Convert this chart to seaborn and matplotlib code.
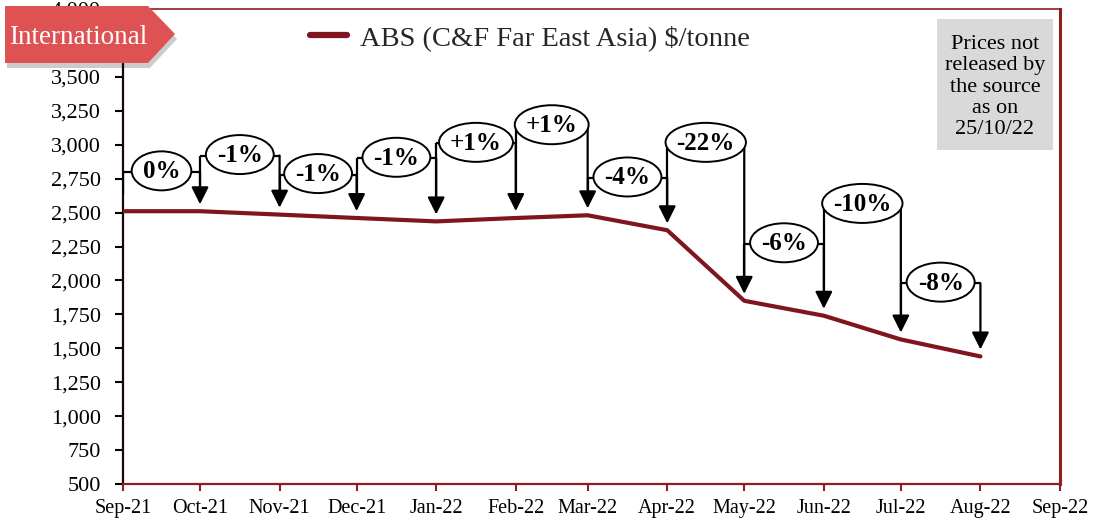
import matplotlib
matplotlib.use("Agg")
import matplotlib.pyplot as plt
import matplotlib.dates as mdates
from matplotlib.patches import Polygon, Rectangle, Ellipse
from matplotlib.transforms import ScaledTranslation
import pandas as pd
import seaborn as sns

# Monthly ABS prices, C&F Far East Asia, US$ per tonne
months = ["2021-09-01", "2021-10-01", "2021-11-01", "2021-12-01", "2022-01-01",
          "2022-02-01", "2022-03-01", "2022-04-01", "2022-05-01", "2022-06-01",
          "2022-07-01", "2022-08-01"]
prices = [2510, 2510, 2485, 2460, 2435, 2460, 2480, 2370, 1850, 1740, 1565, 1440]

# Month-on-month change labels and the height of each bracket
change_labels = ["0%", "-1%", "-1%", "-1%", "+1%", "+1%", "-4%", "-22%", "-6%", "-10%", "-8%"]
bracket_levels = [2800, 2920, 2780, 2900, 3010, 3140, 2755, 3010, 2270, 2560, 1980]

series_name = "ABS (C&F Far East Asia) $/tonne"
y_ticks = [500, 750, 1000, 1250, 1500, 1750, 2000, 2250, 2500, 2750, 3000, 3250, 3500, 4000]
note_text = "Prices not\nreleased by\nthe source\nas on\n25/10/22"
banner_text = "International"

LINE_COLOR = "#80151F"
FRAME_RED = "#8F1D21"
BANNER_RED = "#DE5253"

sns.set_style("white")
plt.rcParams["font.family"] = ["Liberation Serif", "DejaVu Serif"]

W, H = 1093, 521
DPI = 100
fig = plt.figure(figsize=(W / DPI, H / DPI), dpi=DPI)
ax = fig.add_axes([123 / W, 1 - 484 / H, (1060 - 123) / W, (484 - 9) / H])

df = pd.DataFrame({"month": pd.to_datetime(months), "price": prices})
sns.lineplot(data=df, x="month", y="price", ax=ax, color=LINE_COLOR,
             linewidth=3.0, label=series_name, solid_capstyle="round", zorder=3)

ax.set_xlim(pd.Timestamp("2021-09-01"), pd.Timestamp("2022-09-01"))
ax.set_ylim(500, 4000)
ax.set_xlabel("")
ax.set_ylabel("")
ax.xaxis.set_major_locator(mdates.MonthLocator())
ax.xaxis.set_major_formatter(mdates.DateFormatter("%b-%y"))
ax.set_yticks(y_ticks)
ax.yaxis.set_major_formatter(matplotlib.ticker.FuncFormatter(lambda v, p: f"{int(v):,}"))

ax.tick_params(axis="y", which="major", direction="out", length=6, width=1.5,
               color="black", labelsize=16, pad=10, left=True)
ax.tick_params(axis="x", which="major", direction="out", length=5, width=1.5,
               color=FRAME_RED, labelsize=14.5, pad=6, bottom=True)
for lbl in ax.get_yticklabels() + ax.get_xticklabels():
    lbl.set_color("black")

ax.spines["left"].set_color("#1a0505")
ax.spines["left"].set_linewidth(1.6)
ax.spines["bottom"].set_color(FRAME_RED)
ax.spines["bottom"].set_linewidth(1.6)
ax.spines["right"].set_color(FRAME_RED)
ax.spines["right"].set_linewidth(2.2)
ax.spines["top"].set_color(FRAME_RED)
ax.spines["top"].set_linewidth(1.2)
ax.grid(False)

# Change brackets: horizontal at bracket height, arrow down to the next month's price
dates = df["month"].tolist()
label_texts = []
for i, (lab, lev) in enumerate(zip(change_labels, bracket_levels)):
    x0, x1 = dates[i], dates[i + 1]
    ax.plot([x0, x0], [lev, prices[i] + 120], color="black", lw=1.6, zorder=4,
            solid_capstyle="butt")
    ax.plot([x0, x1], [lev, lev], color="black", lw=1.6, zorder=4,
            solid_capstyle="butt")
    ax.annotate("", xy=(x1, prices[i + 1]), xytext=(x1, lev),
                arrowprops=dict(arrowstyle="-|>,head_length=0.8,head_width=0.4",
                                mutation_scale=13, color="black", lw=1.6,
                                shrinkA=0, shrinkB=5),
                zorder=4)
    mid = x0 + (x1 - x0) / 2
    t = ax.text(mid, lev, lab, ha="center", va="center", fontsize=18,
                fontweight="bold", color="black", zorder=6)
    label_texts.append((t, mid, lev))

# Ellipse outlines sized around each rendered label
fig.canvas.draw()
renderer = fig.canvas.get_renderer()
for t, mid, lev in label_texts:
    bb = t.get_window_extent(renderer)
    w_in = (bb.width + 22) / DPI
    h_in = 39 / DPI
    xd = mdates.date2num(mid)
    tr = fig.dpi_scale_trans + ScaledTranslation(xd, lev, ax.transData)
    ax.add_patch(Ellipse((0, 0.01), w_in, h_in, transform=tr, facecolor="white",
                         edgecolor="black", lw=1.4, zorder=5, clip_on=False))

leg = ax.legend(loc="center", bbox_to_anchor=(530 / W, 1 - 38 / H),
                bbox_transform=fig.transFigure, frameon=False, fontsize=20.5,
                handlelength=1.3, handletextpad=0.45)
for h in leg.get_lines():
    h.set_linewidth(4.5)
    h.set_solid_capstyle("round")


def fpt(x, y):
    return (x / W, 1 - y / H)


# Grey note box on the right
note = Rectangle(fpt(937, 150), 116 / W, 131 / H, transform=fig.transFigure,
                 facecolor="#D9D9D9", edgecolor="none", zorder=5)
fig.patches.append(note)
fig.text(995 / W, 1 - 87 / H, note_text, ha="center", va="center", fontsize=16,
         linespacing=1.17, color="black", zorder=6)

# Section banner in the top-left corner
shape = [(5, 6), (148, 6), (175, 34), (148, 63), (5, 63)]
shadow = Polygon([fpt(x + 2, y + 5) for x, y in shape], closed=True,
                 transform=fig.transFigure, facecolor="#000000", alpha=0.2,
                 edgecolor="none", zorder=7)
banner = Polygon([fpt(x, y) for x, y in shape], closed=True,
                 transform=fig.transFigure, facecolor=BANNER_RED,
                 edgecolor="none", zorder=8)
fig.patches.extend([shadow, banner])
fig.text(9 / W, 1 - 37 / H, banner_text, ha="left", va="center", fontsize=19.5,
         color="white", zorder=9)

fig.savefig("out.png", dpi=DPI)
